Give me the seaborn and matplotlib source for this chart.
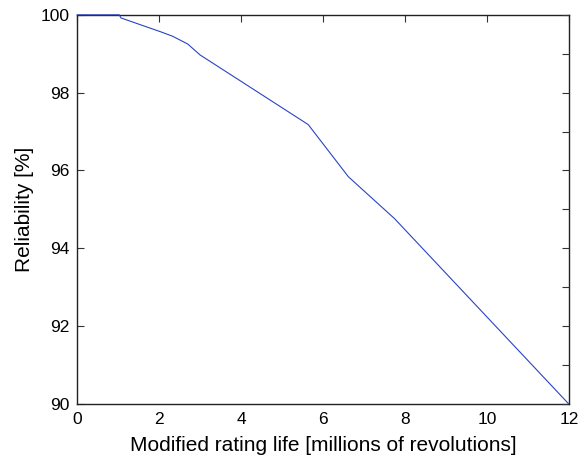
import matplotlib
matplotlib.use("Agg")
import matplotlib.pyplot as plt
import seaborn as sns
import pandas as pd
import numpy as np

# Modified rating life (millions of revolutions) vs. reliability (%)
life = [0.0, 1.03, 1.07, 2.05, 2.33, 2.70, 3.00, 5.64, 6.62, 7.75, 12.0]
reliability = [100.0, 100.0, 99.92, 99.56, 99.45, 99.25, 98.97, 97.18, 95.84, 94.76, 90.0]

x_ticks = [0, 2, 4, 6, 8, 10, 12]
y_ticks = [90, 92, 94, 96, 98, 100]

sns.set_theme(style="white")
plt.rcParams["font.family"] = ["Liberation Sans", "DejaVu Sans"]
plt.rcParams["text.color"] = "black"
plt.rcParams["axes.labelcolor"] = "black"
plt.rcParams["xtick.color"] = "black"
plt.rcParams["ytick.color"] = "black"

df = pd.DataFrame({"life": life, "reliability": reliability})

fig = plt.figure(figsize=(5.84, 4.63), dpi=100)
ax = fig.add_axes([0.132, 0.1274, 0.842, 0.8406])

sns.lineplot(data=df, x="life", y="reliability", ax=ax, color="#2a44c4",
             linewidth=0.8, sort=False)
for ln in ax.lines:
    ln.set_clip_on(False)
    ln.set_zorder(5)

ax.set_xlim(0, 12)
ax.set_ylim(90, 100)
ax.set_xticks(x_ticks)
ax.set_yticks(y_ticks)
ax.set_xticklabels([str(t) for t in x_ticks])
ax.set_yticklabels([str(t) for t in y_ticks])
ax.tick_params(axis="both", direction="in", length=5, width=0.8, color="#333333",
               labelsize=12.5, top=True, right=False, labelcolor="black")
ax.tick_params(axis="x", pad=5.5)
ax.tick_params(axis="y", pad=5.5)
ax.set_xlabel("Modified rating life [millions of revolutions]", fontsize=15, labelpad=7)
ax.set_ylabel("Reliability [%]", fontsize=15, labelpad=5)

for s in ax.spines.values():
    s.set_visible(True)
    s.set_color("#222222")
    s.set_linewidth(1.0)

# right-hand axis carries unit ticks without labels
ax2 = ax.twinx()
ax2.set_ylim(90, 100)
ax2.set_yticks(np.arange(90, 101, 1))
ax2.set_yticklabels([])
ax2.tick_params(axis="y", direction="in", length=5, width=0.8, color="#333333")
for s in ax2.spines.values():
    s.set_visible(False)

fig.savefig("out.png", dpi=100, facecolor="white")
